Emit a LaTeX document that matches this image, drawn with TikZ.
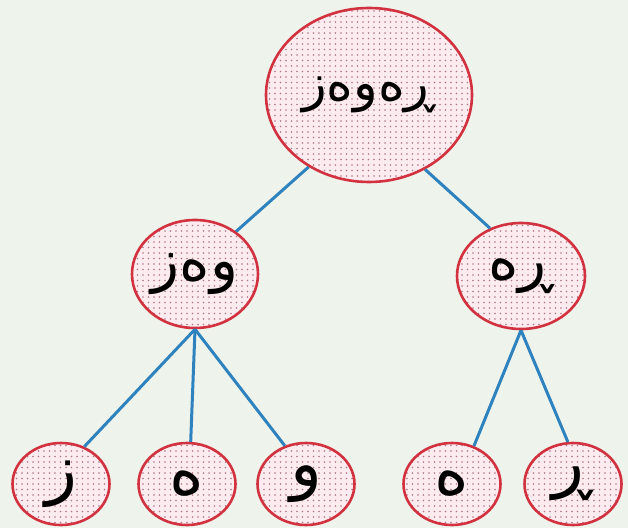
\documentclass[tikz,border=0pt]{standalone}
\usepackage{fontspec}
\usepackage{tikz}
\usetikzlibrary{shapes.geometric}
\usetikzlibrary{patterns.meta}
\usepackage{xcolor}
\TeXXeTstate=1
\newfontfamily\arabicfont[Script=Arabic]{DejaVu Sans}
\definecolor{bgcol}{HTML}{EEF4EC}
\definecolor{rimcol}{HTML}{D2323F}
\definecolor{pinkcol}{HTML}{FCECEF}
\definecolor{dotcol}{HTML}{B07884}
\definecolor{linkcol}{HTML}{2E82BE}

\begin{document}
\begin{tikzpicture}[x=1pt,y=1pt,
    part/.style={ellipse,draw=rimcol,line width=2.6pt,inner sep=0pt,
      preaction={fill=pinkcol},
      pattern={Dots[distance=5.5pt,radius=0.85pt]},pattern color=dotcol,
      font=\arabicfont\fontsize{58}{64}\selectfont},
    letter/.style={part,minimum width=97pt,minimum height=82pt,
      font=\arabicfont\fontsize{66}{70}\selectfont},
    link/.style={draw=linkcol,line width=3pt}]
          \fill[bgcol] (0,0) rectangle (628,528);
          % word and its two parts
          \node[part,minimum width=206pt,minimum height=174pt,
            font=\arabicfont\fontsize{51}{56}\selectfont] (rewez) at (369,433) {\beginR ڕەوەز\endR};
          \node[part,minimum width=126pt,minimum height=108pt] (wez) at (195,254) {\beginR وەز\endR};
          \node[part,minimum width=128pt,minimum height=106pt] (re) at (521,252) {\beginR ڕە\endR};
          % single letters
          \node[letter] (z) at (61,44) {ز};
          \node[letter] (ea) at (187,44) {ە};
          \node[letter] (w) at (306,44) {و};
          \node[letter] (eb) at (452,44) {ە};
          \node[letter] (r) at (573,44) {ڕ};
          \draw[link] (rewez.230) -- (wez.46);
          \draw[link] (rewez.307) -- (re.123);
          \draw[link] (wez.south) -- (z.58);
          \draw[link] (wez.south) -- (ea.85);
          \draw[link] (wez.south) -- (w.119);
          \draw[link] (re.south) -- (eb.60);
          \draw[link] (re.south) -- (r.97);
        \end{tikzpicture}
\end{document}
